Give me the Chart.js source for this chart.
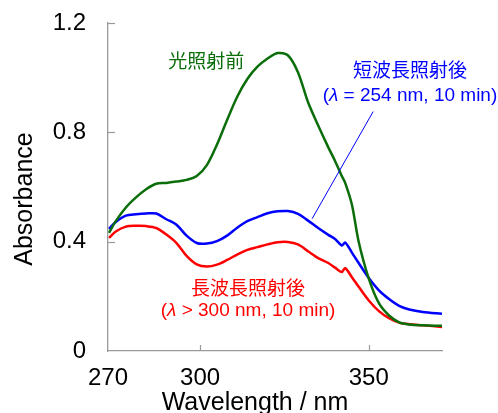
<!DOCTYPE html>
<html>
<head>
<meta charset="utf-8">
<script src="https://cdn.jsdelivr.net/npm/chart.js@4.4.1/dist/chart.umd.min.js"></script>
<style>
  html, body { margin: 0; padding: 0; background: #fff; }
  canvas { display: block; }
</style>
</head>
<body>
<canvas id="spectra" width="498" height="413"></canvas>
<script>
// wavelengths (nm)
const wavelengths = [273, 275, 278, 281, 284, 287, 290, 293, 296, 299, 302, 305, 308, 311, 314, 317, 320, 323, 326, 329, 332, 335, 338, 340, 342, 343, 345, 347, 350, 353, 356, 359, 362, 366, 371.7];
// before irradiation (green)
const beforeAbs = [0.432, 0.475, 0.525, 0.562, 0.592, 0.612, 0.615, 0.620, 0.626, 0.640, 0.680, 0.755, 0.845, 0.930, 0.995, 1.040, 1.070, 1.090, 1.082, 1.020, 0.910, 0.825, 0.745, 0.695, 0.640, 0.615, 0.535, 0.400, 0.265, 0.175, 0.130, 0.105, 0.097, 0.094, 0.092];
// after short-wave irradiation (blue)
const shortAbs = [0.447, 0.472, 0.495, 0.500, 0.503, 0.503, 0.482, 0.462, 0.422, 0.395, 0.393, 0.402, 0.422, 0.451, 0.475, 0.490, 0.504, 0.511, 0.512, 0.502, 0.477, 0.450, 0.425, 0.410, 0.386, 0.397, 0.360, 0.322, 0.267, 0.222, 0.190, 0.165, 0.152, 0.143, 0.136];
// after long-wave irradiation (red)
const longAbs = [0.414, 0.437, 0.455, 0.458, 0.457, 0.450, 0.426, 0.395, 0.348, 0.317, 0.309, 0.316, 0.333, 0.353, 0.370, 0.380, 0.390, 0.398, 0.399, 0.390, 0.365, 0.340, 0.322, 0.305, 0.289, 0.303, 0.270, 0.235, 0.185, 0.146, 0.120, 0.104, 0.098, 0.094, 0.088];

const xTickValues = [272.7, 300, 350];
const xTickLabels = ['270', '300', '350'];
const yTickValues = [0, 0.4, 0.8, 1.2];
const yTickLabels = ['0', '0.4', '0.8', '1.2'];
const xTitle = 'Wavelength / nm';
const yTitle = 'Absorbance';

const GREEN = '#0b6e0b';
const BLUE = '#0000ff';
const RED = '#ff0000';
const AXIS = '#9a9a9a';
const LATIN = '"Liberation Sans", Arial, sans-serif';
const CJK = '"Liberation Sans", "Noto Sans CJK JP", sans-serif';

function toPoints(ys) {
  return wavelengths.map((w, i) => ({ x: w, y: ys[i] }));
}

// text labels, placed in data units
const notes = [
  { color: GREEN, x: 301.8, y: 1.055, parts: [['光照射前', false]] },
  { color: BLUE, x: 362.2, y: 1.02, parts: [['短波長照射後', false]] },
  { color: BLUE, x: 362.2, y: 0.934, parts: [['(', false], ['λ', true], [' = 254 nm, 10 min)', false]] },
  { color: RED, x: 314.2, y: 0.224, parts: [['長波長照射後', false]] },
  { color: RED, x: 314.2, y: 0.147, parts: [['(', false], ['λ', true], [' > 300 nm, 10 min)', false]] }
];
const leader = { from: [351.3, 0.876], to: [333.2, 0.484] };

const extras = {
  id: 'extras',
  afterDatasetsDraw(chart) {
    const ctx = chart.ctx;
    const xs = chart.scales.x, ys = chart.scales.y;
    ctx.save();
    // inward tick marks
    ctx.strokeStyle = AXIS;
    ctx.lineWidth = 1.2;
    xTickValues.slice(1).forEach(v => {
      const px = Math.round(xs.getPixelForValue(v)) + 0.5;
      ctx.beginPath();
      ctx.moveTo(px, ys.bottom);
      ctx.lineTo(px, ys.bottom - 6);
      ctx.stroke();
    });
    yTickValues.slice(1).forEach(v => {
      const py = Math.round(ys.getPixelForValue(v)) + 0.5;
      ctx.beginPath();
      ctx.moveTo(xs.left, py);
      ctx.lineTo(xs.left + 7, py);
      ctx.stroke();
    });
    // leader line
    ctx.strokeStyle = BLUE;
    ctx.lineWidth = 1;
    ctx.beginPath();
    ctx.moveTo(xs.getPixelForValue(leader.from[0]), ys.getPixelForValue(leader.from[1]));
    ctx.lineTo(xs.getPixelForValue(leader.to[0]), ys.getPixelForValue(leader.to[1]));
    ctx.stroke();
    // labels
    ctx.textBaseline = 'middle';
    ctx.textAlign = 'left';
    notes.forEach(n => {
      const fonts = n.parts.map(p => (p[1] ? 'italic ' : '') + '19px ' + CJK);
      let total = 0;
      const widths = n.parts.map((p, i) => {
        ctx.font = fonts[i];
        const w = ctx.measureText(p[0]).width;
        total += w;
        return w;
      });
      let cx = xs.getPixelForValue(n.x) - total / 2;
      const cy = ys.getPixelForValue(n.y);
      ctx.fillStyle = n.color;
      n.parts.forEach((p, i) => {
        ctx.font = fonts[i];
        ctx.fillText(p[0], cx, cy);
        cx += widths[i];
      });
    });
    // axis titles (the original sits them off-centre)
    ctx.fillStyle = '#000';
    ctx.font = '25px ' + LATIN;
    ctx.textAlign = 'center';
    ctx.textBaseline = 'alphabetic';
    ctx.fillText(xTitle, xs.left + 147, 410);
    ctx.translate(32, ys.top + 176);
    ctx.rotate(-Math.PI / 2);
    ctx.fillText(yTitle, 0, 0);
    ctx.restore();
  }
};

new Chart(document.getElementById('spectra').getContext('2d'), {
  type: 'line',
  data: {
    datasets: [
      { label: '光照射前', data: toPoints(beforeAbs), borderColor: GREEN },
      { label: '短波長照射後', data: toPoints(shortAbs), borderColor: BLUE },
      { label: '長波長照射後', data: toPoints(longAbs), borderColor: RED }
    ]
  },
  options: {
    responsive: false,
    animation: false,
    devicePixelRatio: 1,
    datasets: { line: { borderWidth: 2.5, pointRadius: 0, tension: 0.3, fill: false } },
    layout: { padding: { left: 0, right: 56, top: 23, bottom: 0 } },
    plugins: { legend: { display: false }, tooltip: { enabled: false } },
    scales: {
      x: {
        type: 'linear',
        min: 272.7,
        max: 371.7,
        afterBuildTicks: s => { s.ticks = xTickValues.map(v => ({ value: v })); },
        afterFit: s => { s.height = 62; s.paddingLeft = 0; s.paddingRight = 0; },
        grid: { display: false, drawTicks: false },
        border: { display: true, color: AXIS, width: 1.3 },
        ticks: {
          color: '#000',
          padding: 13,
          maxRotation: 0,
          font: { family: LATIN, size: 24 },
          callback: (v, i) => xTickLabels[i]
        },
        title: { display: false, text: xTitle }
      },
      y: {
        min: 0,
        max: 1.2,
        afterBuildTicks: s => { s.ticks = yTickValues.map(v => ({ value: v })); },
        afterFit: s => { s.width = 108; s.paddingTop = 0; s.paddingBottom = 0; },
        grid: { display: false, drawTicks: false },
        border: { display: true, color: AXIS, width: 1.3 },
        ticks: {
          color: '#000',
          padding: 22,
          font: { family: LATIN, size: 24 },
          callback: (v, i) => yTickLabels[i]
        },
        title: { display: false, text: yTitle }
      }
    }
  },
  plugins: [extras]
});
</script>
</body>
</html>
